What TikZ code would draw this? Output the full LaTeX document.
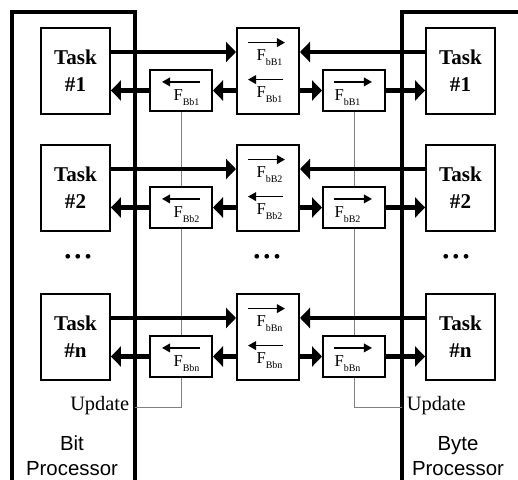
\documentclass[tikz,border=0pt]{standalone}
\usepackage{fontspec}
\setmainfont{Liberation Serif}
\setsansfont{Liberation Sans}
\usetikzlibrary{arrows.meta}

\newcommand{\fsub}[1]{F\raisebox{-3.75pt}{\fontsize{7.5}{9}\selectfont #1}}

\tikzset{every picture/.style={line width=0.75pt}}
\tikzset{
  procline/.style={line width=3pt, line join=miter},
  taskbox/.style={draw, line width=1.7pt, minimum width=51.5pt, minimum height=64.3pt, inner sep=0pt, align=center, font=\fontsize{15.8}{20}\selectfont\bfseries},
  ctrbox/.style={draw, line width=1.7pt, minimum width=46.3pt, minimum height=64.3pt, inner sep=0pt},
  smallbox/.style={draw, line width=1.7pt, minimum width=46.3pt, minimum height=30.5pt, inner sep=0pt},
  flabel/.style={inner sep=0pt, anchor=base west, font=\fontsize{12.5}{14}\selectfont},
  bigarrow/.style={line width=3.2pt, -{Triangle[length=7.5pt,width=15pt]}},
  overarrow/.style={line width=1pt, -{Triangle[length=6pt,width=6.5pt]}},
  updline/.style={line width=0.75pt, gray},
  dotsnode/.style={font=\fontsize{13}{14}\selectfont\bfseries},
}

\begin{document}
\begin{tikzpicture}[x=0.75pt,y=0.75pt,yscale=-1,xscale=1]
\useasboundingbox (0,0) rectangle (518,479);
\clip (0,0) rectangle (518,479);

%Bit processor frame
\draw[procline] (11.5,490) -- (11.5,12) -- (135,12) -- (135,490);
%Byte processor frame
\draw[procline] (401.5,490) -- (401.5,12) -- (530,12) -- (530,490);

%Rows of tasks and buffers
\foreach \t/\i in {27/1,144/2,293/n}{
  \node[taskbox] (tL\i) at (75.5,\t+44) {Task\\\#\i};
  \node[taskbox] (tR\i) at (460.5,\t+44) {Task\\\#\i};
  \node[ctrbox] (c\i) at (268,\t+44) {};
  \node[smallbox] (sL\i) at (181,\t+63.5) {};
  \node[smallbox] (sR\i) at (354,\t+63.5) {};
  \coordinate (u\i) at (0,\t+25);
  \coordinate (l\i) at (0,\t+63.5);
  % labels
  \node[flabel] (fT\i) at (256,\t+33) {\fsub{bB\i}};
  \node[flabel] (fB\i) at (256,\t+70) {\fsub{Bb\i}};
  \node[flabel] (fL\i) at (173,\t+73) {\fsub{Bb\i}};
  \node[flabel] (fR\i) at (334,\t+73) {\fsub{bB\i}};
  \draw[overarrow] ([xshift=-6pt,yshift=-4.5pt]fT\i.north west) -- ([xshift=1.5pt,yshift=-4.5pt]fT\i.north east);
  \draw[overarrow] ([yshift=-4.5pt]fB\i.north east) -- ([xshift=-6pt,yshift=-4.5pt]fB\i.north west);
  \draw[overarrow] ([yshift=-5pt]fL\i.north east) -- ([xshift=-8.25pt,yshift=-5pt]fL\i.north west);
  \draw[overarrow] ([yshift=-5pt]fR\i.north west) -- ([xshift=8.25pt,yshift=-5pt]fR\i.north east);
}

%Update lines
\coordinate (updL) at (135,407);
\coordinate (updR) at (401.5,407);
\draw[updline] (sL1.south) -- (sL2.north) (sL2.south) -- (sLn.north) (sLn.south) |- (updL);
\draw[updline] (sR1.south) -- (sR2.north) (sR2.south) -- (sRn.north) (sRn.south) |- (updR);

%Thick arrows
\foreach \i in {1,2,n}{
  \draw[bigarrow] (tL\i.east |- u\i) -- (c\i.west |- u\i);
  \draw[bigarrow] (tR\i.west |- u\i) -- (c\i.east |- u\i);
  \draw[bigarrow] (sL\i.west |- l\i) -- (tL\i.east |- l\i);
  \draw[bigarrow] (c\i.west |- l\i) -- (sL\i.east |- l\i);
  \draw[bigarrow] (c\i.east |- l\i) -- (sR\i.west |- l\i);
  \draw[bigarrow] (sR\i.east |- l\i) -- (tR\i.west |- l\i);
}

% Text Node
\node[dotsnode] (dotsL) at (78,258) {\textbullet\hspace{3pt}\textbullet\hspace{3pt}\textbullet};
\node[dotsnode] (dotsC) at (267,258) {\textbullet\hspace{3pt}\textbullet\hspace{3pt}\textbullet};
\node[dotsnode] (dotsR) at (456,258) {\textbullet\hspace{3pt}\textbullet\hspace{3pt}\textbullet};
% Text Node
\node[anchor=east, inner sep=1pt, font=\fontsize{15.3}{18}\selectfont] (updLtxt) at (131,406) {Update};
\node[anchor=west, inner sep=1pt, font=\fontsize{15.3}{18}\selectfont] (updRtxt) at (405,406) {Update};
% Text Node
\node[align=center, font=\sffamily\fontsize{15.3}{18.75}\selectfont] (bitp) at (72,456) {Bit\\Processor};
\node[align=center, font=\sffamily\fontsize{15.3}{18.75}\selectfont] (bytep) at (458,456) {Byte\\Processor};

\end{tikzpicture}
\end{document}
